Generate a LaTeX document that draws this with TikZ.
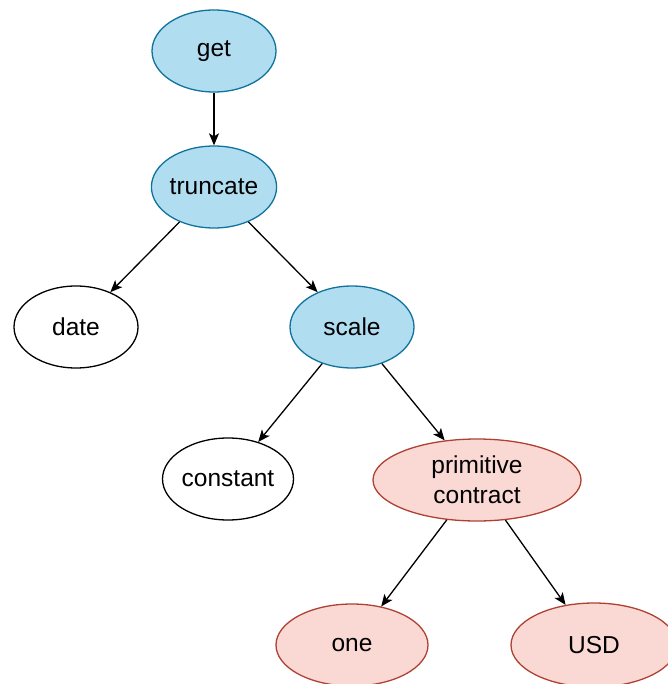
\documentclass[tikz,border=0pt]{standalone}
\usepackage{fontspec}
\setmainfont{Liberation Sans}
\usetikzlibrary{shapes.geometric,arrows.meta}
\definecolor{bluefill}{HTML}{B1DDF0}
\definecolor{bluestroke}{HTML}{10739E}
\definecolor{redfill}{HTML}{FAD9D5}
\definecolor{redstroke}{HTML}{AE4132}
\begin{document}
\begin{tikzpicture}[x=1pt,y=-1pt,
  oval/.style={ellipse, draw=black, line width=1.3pt, inner sep=0pt,
    minimum width=124pt, minimum height=82pt, align=center,
    font=\fontsize{24.5}{30}\selectfont},
  opnode/.style={oval, fill=bluefill, draw=bluestroke},
  leafnode/.style={oval, fill=redfill, draw=redstroke},
  edge/.style={line width=1.3pt, -{Stealth[length=12pt,width=10pt,inset=3pt]}}]
  \useasboundingbox (0,0) rectangle (667,684);

  % operator nodes
  \node[opnode] (get) at (214,51) {get};
  \node[opnode] (truncate) at (214,187) {truncate};
  \node[opnode] (scale) at (352,327) {scale};

  % plain arguments
  \node[oval] (date) at (76,327) {date};
  \node[oval] (constant) at (228,479) {constant};

  % primitive contract and its parts
  \node[leafnode, minimum width=208pt] (prim) at (477,480) {primitive\\contract};
  \node[leafnode, minimum width=152pt] (one) at (352,645) {one};
  \node[leafnode, minimum width=166pt, minimum height=84pt] (usd) at (594,645) {USD};

  % tree edges
  \draw[edge] (get) -- (truncate);
  \draw[edge] (truncate) -- (date);
  \draw[edge] (truncate) -- (scale);
  \draw[edge] (scale) -- (constant);
  \draw[edge] (scale) -- (prim);
  \draw[edge] (prim) -- (one);
  \draw[edge] (prim) -- (usd);
\end{tikzpicture}
\end{document}
